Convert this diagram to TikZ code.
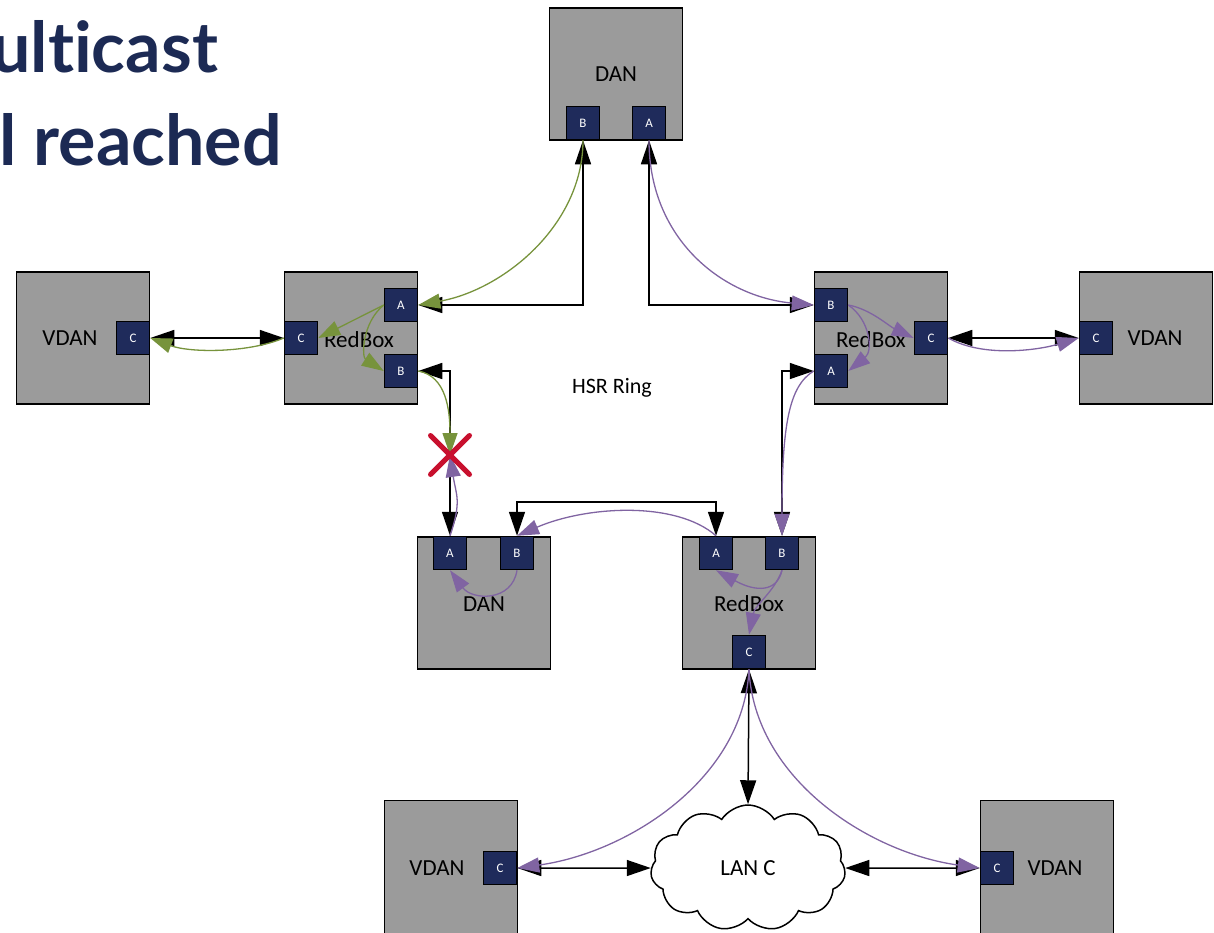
\documentclass[tikz,border=0pt]{standalone}
\usepackage{fontspec}
\setmainfont{Carlito}
\newfontfamily\titlefont[Ligatures=NoCommon]{Lato}
\usetikzlibrary{arrows.meta,shapes.symbols,shapes.misc}

\definecolor{portblue}{HTML}{1F2B5B}
\definecolor{boxgray}{HTML}{9B9B9B}
\definecolor{hsrgreen}{HTML}{77933C}
\definecolor{hsrpurple}{HTML}{8064A2}
\definecolor{titleblue}{HTML}{1C2A54}
\definecolor{crossred}{HTML}{C8102E}

\tikzset{
  device/.style={draw=black, fill=boxgray, line width=1.5pt, minimum width=133pt, minimum height=132pt, inner sep=0pt},
  port/.style={draw=black, fill=portblue, line width=1.5pt, minimum size=33pt, inner sep=0pt, text=white, font=\fontsize{13}{13}\selectfont},
  devname/.style={inner sep=0pt, font=\fontsize{23}{23}\selectfont},
  link/.style={line width=1.5pt, {Triangle[length=24pt,width=16pt]}-{Triangle[length=24pt,width=16pt]}},
  greenpath/.style={draw=hsrgreen, line width=1.3pt, -{Triangle[length=22pt,width=15pt]}},
  purplepath/.style={draw=hsrpurple, line width=1.3pt, -{Triangle[length=22pt,width=15pt]}},
}

\begin{document}
\begin{tikzpicture}[x=1pt, y=-1pt]
	\useasboundingbox (0,0) rectangle (1214,932);
	%\draw[help lines] (0,0) grid[step=100] (1214,932);
	\node[anchor=base west, text=titleblue, font=\titlefont\bfseries\fontsize{70}{70}\selectfont, inner sep=0pt] (ttlone) at (-9,72) {ulticast};
	\node[anchor=base west, text=titleblue, font=\titlefont\bfseries\fontsize{70}{70}\selectfont, inner sep=0pt] (ttltwo) at (-1,165) {l reached};

	\node[device] (dan) at (616,74) {};
	\node[device] (vdanl) at (83,338) {};
	\node[device] (rbl) at (351,338) {};
	\node[device] (rbr) at (881,338) {};
	\node[device] (vdanr) at (1146,338) {};
	\node[device] (danb) at (484,603) {};
	\node[device] (rbb) at (749,603) {};
	\node[device, minimum height=145pt] (vdanbl) at (451,873) {};
	\node[device, minimum height=145pt] (vdanbr) at (1047,873) {};
	\node[cloud, draw, fill=white, line width=1.5pt, cloud puffs=11, cloud puff arc=115, aspect=1.55, minimum width=195pt, minimum height=126pt, devname] (lanc) at (748,868) {LAN C};

	\node[devname] at (616,74) {DAN};
	\node[devname] at (70,338) {VDAN};
	\node[devname] at (359,340) {RedBox};
	\node[devname] at (871,340) {RedBox};
	\node[devname] at (1155,338) {VDAN};
	\node[devname] at (484,604) {DAN};
	\node[devname] at (749,604) {RedBox};
	\node[devname] at (437,868) {VDAN};
	\node[devname] at (1055,868) {VDAN};
	\node[devname, font=\fontsize{22}{22}\selectfont] (ring) at (612,388) {HSR Ring};

	\node[port] (danB) at (583,123) {B};
	\node[port] (danA) at (649,123) {A};
	\node[port] (vdanlC) at (133,338) {C};
	\node[port] (rblA) at (401,305) {A};
	\node[port] (rblC) at (301,338) {C};
	\node[port] (rblB) at (401,371) {B};
	\node[port] (rbrB) at (831,305) {B};
	\node[port] (rbrC) at (931,338) {C};
	\node[port] (rbrA) at (831,371) {A};
	\node[port] (vdanrC) at (1096,338) {C};
	\node[port] (danbA) at (450,553) {A};
	\node[port] (danbB) at (517,553) {B};
	\node[port] (rbbA) at (716,553) {A};
	\node[port] (rbbB) at (782,553) {B};
	\node[port] (rbbC) at (749,652) {C};
	\node[port] (vdanblC) at (500,868) {C};
	\node[port] (vdanbrC) at (997,868) {C};
	\coordinate (cut) at (450,455);

	\draw[link] (vdanlC.east) -- (rblC.west);
	\draw[link] (rblA.east) -| (danB.south);
	\draw[link] (danA.south) |- (rbrB.west);
	\draw[link] (rbrC.east) -- (vdanrC.west);
	\draw[link] (rblB.east) -| (danbA.north);
	\draw[link] (danbB.north) -- ++(0,-34) -| (rbbA.north);
	\draw[link] (rbbB.north) |- (rbrA.west);
	\draw[link] (rbbC.south) -- (lanc.north);
	\draw[link] (vdanblC.east) -- (lanc.west);
	\draw[link] (lanc.east) -- (vdanbrC.west);

	\draw[greenpath] (danB.south) .. controls +(0,85) and +(85,-15) .. (rblA.east);
	\draw[greenpath] (rblA.west) -- (rblC.east);
	\draw[greenpath] (rblA.west) .. controls +(-22,18) and +(-22,-14) .. (rblB.west);
	\draw[greenpath] (rblC.west) .. controls +(-35,15) and +(40,15) .. (vdanlC.east);
	\draw[greenpath] (rblB.east) .. controls +(28,5) and +(0,-45) .. (cut);

	\draw[purplepath] (danA.south) .. controls +(0,100) and +(-90,-8) .. (rbrB.west);
	\draw[purplepath] (rbrB.east) .. controls +(22,4) and +(-25,-12) .. (rbrC.west);
	\draw[purplepath] (rbrB.east) .. controls +(22,15) and +(25,-20) .. (rbrA.east);
	\draw[purplepath] (rbrC.east) .. controls +(35,20) and +(-40,12) .. (vdanrC.west);
	\draw[purplepath] (rbrA.west) .. controls +(-25,15) and +(0,-110) .. (rbbB.north);
	\draw[purplepath] (rbbA.north) .. controls +(-40,-35) and +(70,-30) .. (danbB.north);
	\draw[purplepath] (danbB.south) .. controls +(-5,32) and +(22,30) .. (danbA.south);
	\draw[purplepath] (danbA.north) .. controls +(12,-35) and +(6,40) .. (cut);
	\draw[purplepath] (rbbB.south) .. controls +(-5,22) and +(40,22) .. (rbbA.south);
	\draw[purplepath] (rbbB.south) .. controls +(-8,22) and +(6,-30) .. (rbbC.north);
	\draw[purplepath] (rbbC.south) .. controls +(-5,110) and +(110,-15) .. (vdanblC.east);
	\draw[purplepath] (rbbC.south) .. controls +(5,110) and +(-110,-15) .. (vdanbrC.west);

	\node[cross out, draw=crossred, line width=5pt, line cap=round, minimum size=34pt, inner sep=0pt] (cutmark) at (cut) {};
\end{tikzpicture}
\end{document}
